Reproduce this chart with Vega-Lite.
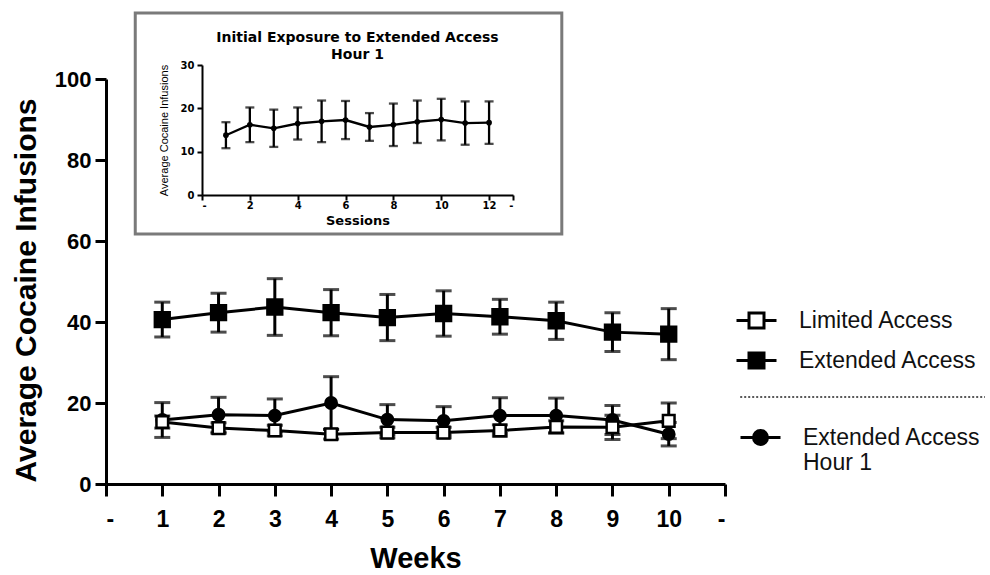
{
  "$schema": "https://vega.github.io/schema/vega-lite/v6.json",
  "width": 619,
  "height": 405,
  "autosize": "none",
  "padding": {"left": 106, "top": 79, "right": 265, "bottom": 91},
  "background": "white",
  "config": {
    "view": {"stroke": null},
    "axis": {"grid": false, "domainColor": "black", "tickColor": "black", "labelColor": "black", "titleColor": "black"},
    "legend": {"labelFont": "Liberation Sans", "labelFontSize": 23, "labelColor": "#111", "labelLimit": 400, "symbolSize": 1600, "symbolStrokeWidth": 3, "symbolStrokeColor": "black", "padding": 0, "labelOffset": 21, "rowPadding": 5, "title": null}
  },
  "datasets": {
    "inset": [
      {"session": 1, "mean": 13.8, "sem": 3.0},
      {"session": 2, "mean": 16.2, "sem": 4.0},
      {"session": 3, "mean": 15.4, "sem": 4.3},
      {"session": 4, "mean": 16.5, "sem": 3.7},
      {"session": 5, "mean": 17.0, "sem": 4.8},
      {"session": 6, "mean": 17.3, "sem": 4.4},
      {"session": 7, "mean": 15.7, "sem": 3.2},
      {"session": 8, "mean": 16.2, "sem": 4.9},
      {"session": 9, "mean": 16.9, "sem": 4.9},
      {"session": 10, "mean": 17.4, "sem": 4.8},
      {"session": 11, "mean": 16.6, "sem": 5.0},
      {"session": 12, "mean": 16.7, "sem": 4.9}
    ],
    "main": [
      {"week": 1, "group": "Extended Access Hour 1", "mean": 15.8, "sem": 4.3},
      {"week": 2, "group": "Extended Access Hour 1", "mean": 17.1, "sem": 4.3},
      {"week": 3, "group": "Extended Access Hour 1", "mean": 16.9, "sem": 4.1},
      {"week": 4, "group": "Extended Access Hour 1", "mean": 20.0, "sem": 6.5},
      {"week": 5, "group": "Extended Access Hour 1", "mean": 15.9, "sem": 3.7},
      {"week": 6, "group": "Extended Access Hour 1", "mean": 15.6, "sem": 3.5},
      {"week": 7, "group": "Extended Access Hour 1", "mean": 16.9, "sem": 4.4},
      {"week": 8, "group": "Extended Access Hour 1", "mean": 16.9, "sem": 4.3},
      {"week": 9, "group": "Extended Access Hour 1", "mean": 15.8, "sem": 3.6},
      {"week": 10, "group": "Extended Access Hour 1", "mean": 12.3, "sem": 2.9},
      {"week": 1, "group": "Extended Access", "mean": 40.6, "sem": 4.3},
      {"week": 2, "group": "Extended Access", "mean": 42.3, "sem": 4.8},
      {"week": 3, "group": "Extended Access", "mean": 43.7, "sem": 7.0},
      {"week": 4, "group": "Extended Access", "mean": 42.3, "sem": 5.7},
      {"week": 5, "group": "Extended Access", "mean": 41.1, "sem": 5.7},
      {"week": 6, "group": "Extended Access", "mean": 42.1, "sem": 5.6},
      {"week": 7, "group": "Extended Access", "mean": 41.3, "sem": 4.3},
      {"week": 8, "group": "Extended Access", "mean": 40.3, "sem": 4.6},
      {"week": 9, "group": "Extended Access", "mean": 37.5, "sem": 4.8},
      {"week": 10, "group": "Extended Access", "mean": 37.0, "sem": 6.3},
      {"week": 1, "group": "Limited Access", "mean": 15.3, "sem": 1.5},
      {"week": 2, "group": "Limited Access", "mean": 13.8, "sem": 1.3},
      {"week": 3, "group": "Limited Access", "mean": 13.2, "sem": 1.3},
      {"week": 4, "group": "Limited Access", "mean": 12.3, "sem": 1.2},
      {"week": 5, "group": "Limited Access", "mean": 12.7, "sem": 1.3},
      {"week": 6, "group": "Limited Access", "mean": 12.7, "sem": 1.3},
      {"week": 7, "group": "Limited Access", "mean": 13.2, "sem": 1.4},
      {"week": 8, "group": "Limited Access", "mean": 14.1, "sem": 1.5},
      {"week": 9, "group": "Limited Access", "mean": 14.0, "sem": 3.0},
      {"week": 10, "group": "Limited Access", "mean": 15.6, "sem": 4.4}
    ]
  },
  "layer": [
    {
      "data": {"name": "inset"},
      "encoding": {
        "x": {"field": "session", "type": "quantitative",
          "scale": {"domain": [0, 13], "range": [96, 407], "nice": false, "zero": false},
          "axis": {"orient": "bottom", "offset": -289, "zindex": 1, "values": [0, 2, 4, 6, 8, 10, 12, 13],
            "labelExpr": "datum.value == 0 || datum.value == 13 ? '-' : datum.label",
            "domainWidth": 2, "tickWidth": 2, "tickSize": 5, "labelPadding": 0,
            "labelFont": "DejaVu Sans", "labelFontWeight": "bold", "labelFontSize": 10,
            "title": "Sessions", "titleFont": "DejaVu Sans", "titleFontWeight": "bold", "titleFontSize": 13,
            "titleY": 29, "titleBaseline": "alphabetic"}},
        "y": {"field": "mean", "type": "quantitative",
          "scale": {"domain": [0, 30], "range": [116, -14], "nice": false},
          "axis": {"orient": "left", "offset": -96, "zindex": 1, "values": [0, 10, 20, 30],
            "domainWidth": 2, "tickWidth": 2, "tickSize": 5, "labelPadding": 3,
            "labelFont": "DejaVu Sans", "labelFontWeight": "bold", "labelFontSize": 10,
            "title": "Average Cocaine Infusions", "titleFont": "Liberation Sans", "titleFontWeight": "normal", "titleFontSize": 11,
            "titleX": -35, "titleBaseline": "alphabetic"}}
      },
      "layer": [
        {
          "transform": [{"filter": "datum.session == 1"}],
          "mark": {"type": "rect", "fill": "white", "stroke": "#7a7a7a", "strokeWidth": 3},
          "encoding": {
            "x": {"datum": -2.79, "type": "quantitative"},
            "x2": {"datum": 15.04},
            "y": {"datum": -9.0, "type": "quantitative"},
            "y2": {"datum": 42.0}
          }
        },
        {
          "transform": [{"filter": "datum.session == 1"}],
          "mark": {"type": "text", "text": ["Initial Exposure to Extended Access", "Hour 1"], "font": "DejaVu Sans", "fontWeight": "bold", "fontSize": 14, "lineHeight": 17, "align": "center", "baseline": "middle", "color": "black"},
          "encoding": {
            "x": {"datum": 6.5, "type": "quantitative"},
            "y": {"datum": 36.2, "type": "quantitative"}
          }
        },
        {
          "mark": {"type": "errorbar", "ticks": {"size": 9, "thickness": 2.3, "color": "black"}, "rule": {"strokeWidth": 2.3, "color": "black"}},
          "encoding": {"yError": {"field": "sem"}}
        },
        {
          "mark": {"type": "line", "color": "black", "strokeWidth": 2.3}
        },
        {
          "mark": {"type": "point", "shape": "circle", "filled": true, "color": "black", "size": 32, "opacity": 1}
        }
      ]
    },
    {
      "data": {"name": "main"},
      "encoding": {
        "x": {"field": "week", "type": "quantitative",
          "scale": {"domain": [0, 11], "nice": false, "zero": false},
          "axis": {"orient": "bottom", "values": [0, 1, 2, 3, 4, 5, 6, 7, 8, 9, 10, 11],
            "labelExpr": "datum.value == 0 || datum.value == 11 ? '-' : datum.label",
            "domainWidth": 3, "tickWidth": 3, "tickSize": 12, "labelPadding": 12,
            "labelFont": "Liberation Sans", "labelFontWeight": "bold", "labelFontSize": 23,
            "title": "Weeks", "titleFont": "Liberation Sans", "titleFontWeight": "bold", "titleFontSize": 29,
            "titleY": 83, "titleBaseline": "alphabetic"}},
        "y": {"field": "mean", "type": "quantitative",
          "scale": {"domain": [0, 100], "nice": false},
          "axis": {"orient": "left", "values": [0, 20, 40, 60, 80, 100],
            "domainWidth": 3, "tickWidth": 3, "tickSize": 11, "labelPadding": 4,
            "labelFont": "Liberation Sans", "labelFontWeight": "bold", "labelFontSize": 22,
            "title": "Average Cocaine Infusions", "titleFont": "Liberation Sans", "titleFontWeight": "bold", "titleFontSize": 30,
            "titleX": -71, "titleY": 211, "titleBaseline": "alphabetic"}}
      },
      "layer": [
        {
          "mark": {"type": "errorbar", "ticks": {"size": 16, "thickness": 3, "color": "black"}, "rule": {"strokeWidth": 3, "color": "black"}},
          "encoding": {"yError": {"field": "sem"}}
        },
        {
          "mark": {"type": "line", "color": "black", "strokeWidth": 3},
          "encoding": {"detail": {"field": "group"}}
        },
        {
          "transform": [{"filter": "datum.group == 'Extended Access Hour 1'"}],
          "mark": {"type": "point", "shape": "circle", "filled": true, "stroke": "black", "strokeWidth": 2, "size": 140, "opacity": 1},
          "encoding": {
            "fill": {"field": "group", "type": "nominal",
              "scale": {"domain": ["Extended Access Hour 1"], "range": ["black"]},
              "legend": {"orient": "none", "legendX": 633, "legendY": 337,
                "symbolType": "M-1,0H-0.35M0.35,0H1M-0.35,0A0.35,0.35 0 1,1 0.35,0A0.35,0.35 0 1,1 -0.35,0Z",
                "labelExpr": "['Extended Access', 'Hour 1']",
                "encode": {
                  "labels": {"update": {"dy": {"value": 13}, "lineHeight": {"value": 26}}}
                }}}
          }
        },
        {
          "layer": [
            {
              "transform": [{"filter": "datum.group == 'Extended Access'"}],
              "mark": {"type": "point", "shape": "square", "filled": true, "stroke": "black", "strokeWidth": 2.5, "size": 220, "opacity": 1}
            },
            {
              "transform": [{"filter": "datum.group == 'Limited Access'"}],
              "mark": {"type": "point", "shape": "square", "filled": true, "stroke": "black", "strokeWidth": 2.5, "size": 135, "opacity": 1}
            }
          ],
          "encoding": {
            "fill": {"field": "group", "type": "nominal",
              "scale": {"domain": ["Limited Access", "Extended Access"], "range": ["white", "black"]},
              "legend": {"orient": "none", "legendX": 629, "legendY": 220,
                "symbolType": "M-1,0H-0.375M0.375,0H1M-0.375,-0.375H0.375V0.375H-0.375Z"}}
          }
        },
        {
          "transform": [{"filter": "datum.week == 1 && datum.group == 'Limited Access'"}],
          "mark": {"type": "rule", "strokeDash": [2, 2], "strokeWidth": 1.5, "color": "#222"},
          "encoding": {
            "x": {"datum": 11.27, "type": "quantitative"},
            "x2": {"datum": 15.62},
            "y": {"datum": 21.5, "type": "quantitative"}
          }
        }
      ],
      "resolve": {"scale": {"fill": "independent"}}
    }
  ],
  "resolve": {"scale": {"x": "independent", "y": "independent"}}
}
